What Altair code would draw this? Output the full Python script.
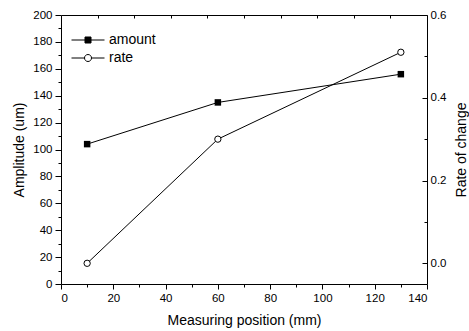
import altair as alt
import pandas as pd

# ---- data ----
positions = [10, 60, 130]
amount = [104, 135, 156]
rate = [0.0, 0.30, 0.51]
series = ["amount", "rate"]

x_major = [0, 20, 40, 60, 80, 100, 120, 140]
x_minor = [10, 30, 50, 70, 90, 110, 130]
x_top = [14, 28, 42, 56, 70, 84, 98, 112, 126]
y_left_major = [0, 20, 40, 60, 80, 100, 120, 140, 160, 180, 200]
y_left_minor = [10, 30, 50, 70, 90, 110, 130, 150, 170, 190]
y_right_major = [0.0, 0.2, 0.4, 0.6]
y_right_minor = [0.1, 0.3, 0.5]

df = pd.DataFrame({"pos": positions, "amount": amount, "rate": rate})
leg = pd.DataFrame({"series": series})

FONT = "Liberation Sans"

xs = alt.Scale(domain=[0, 140], nice=False, zero=False)
ysl = alt.Scale(domain=[0, 200], nice=False, zero=False)
ysr = alt.Scale(domain=[-0.05, 0.6], nice=False, zero=False)

amount_layer = alt.Chart(df).mark_line(
    color="black", strokeWidth=1,
    point=alt.OverlayMarkDef(shape="square", filled=True, color="black", size=42),
).encode(
    x=alt.X("pos:Q", scale=xs, axis=alt.Axis(
        orient="bottom", values=x_major, tickSize=5, labelPadding=3, format="d",
        title="Measuring position (mm)", titlePadding=10)),
    y=alt.Y("amount:Q", scale=ysl, axis=alt.Axis(
        orient="left", values=y_left_major, tickSize=6, labelPadding=3, format="d",
        title="Amplitude (um)", titlePadding=6)),
)

rate_layer = alt.Chart(df).mark_line(
    color="black", strokeWidth=1,
    point=alt.OverlayMarkDef(shape="circle", filled=True, fill="white",
                             stroke="black", strokeWidth=1, size=40),
).encode(
    x=alt.X("pos:Q", scale=xs, axis=alt.Axis(
        orient="top", values=x_top, tickSize=3, offset=-3, labels=False, title=None)),
    y=alt.Y("rate:Q", scale=ysr, axis=alt.Axis(
        orient="right", values=y_right_major, tickSize=5, offset=-5, labelPadding=3,
        format=".1f", title="Rate of change", titleAngle=270, titleBaseline="top",
        titlePadding=9)),
)

minor_left = alt.Chart(df).mark_point(opacity=0).encode(
    x=alt.X("pos:Q", scale=xs, axis=alt.Axis(
        orient="bottom", values=x_minor, tickSize=3, labels=False, title=None)),
    y=alt.Y("amount:Q", scale=ysl, axis=alt.Axis(
        orient="left", values=y_left_minor, tickSize=3, labels=False, title=None)),
)

minor_right = alt.Chart(df).mark_point(opacity=0).encode(
    x=alt.X("pos:Q", scale=xs, axis=None),
    y=alt.Y("rate:Q", scale=ysr, axis=alt.Axis(
        orient="right", values=y_right_minor, tickSize=3, offset=-3, labels=False,
        title=None)),
)

path_amount = "M-3.3,0L3.3,0M-0.6,-0.6L0.6,-0.6L0.6,0.6L-0.6,0.6Z"
path_rate = ("M-3.3,0L-0.7,0M0.7,0L3.3,0"
             "M-0.7,0A0.7,0.7,0,1,1,0.7,0A0.7,0.7,0,1,1,-0.7,0Z")

legend_def = alt.Legend(
    orient="none", legendX=20, legendY=18, title=None, padding=0,
    labelFont=FONT, labelFontSize=14, labelColor="black", labelOffset=14,
    symbolSize=100, symbolStrokeWidth=1,
    symbolOpacity=1, rowPadding=4,
)

legend_layer = alt.Chart(leg).mark_point(
    filled=True, strokeWidth=1, opacity=0
).encode(
    shape=alt.Shape("series:N", scale=alt.Scale(domain=series, range=[path_amount, path_rate]),
                    legend=legend_def),
    fill=alt.Fill("series:N", scale=alt.Scale(domain=series, range=["black", "white"]),
                  legend=legend_def),
    stroke=alt.Stroke("series:N", scale=alt.Scale(domain=series, range=["black", "black"]),
                      legend=legend_def),
)

chart = alt.layer(
    amount_layer, rate_layer, minor_left, minor_right, legend_layer
).resolve_scale(
    x="independent", y="independent"
).resolve_axis(
    x="independent", y="independent"
).properties(
    width=366, height=269,
    autosize=alt.AutoSizeParams(type="none"),
    padding={"left": 61, "top": 15, "right": 42, "bottom": 47},
    background="white",
).configure_view(
    stroke="black", strokeWidth=1
).configure_axis(
    labelFont=FONT, labelFontSize=11.5, labelColor="black",
    titleFont=FONT, titleFontSize=14, titleFontWeight="normal", titleColor="black",
    tickColor="black", tickWidth=1, domain=False, grid=False,
)

chart.save("out.html", embed_options={"renderer": "svg", "actions": False})
